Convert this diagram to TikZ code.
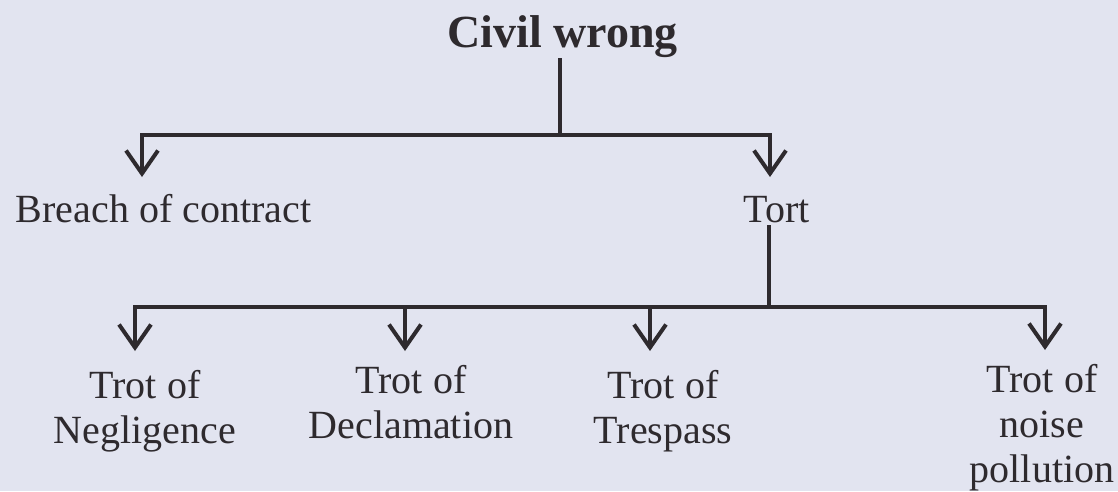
\documentclass[tikz,border=0pt]{standalone}
\usepackage{fontspec}
\setmainfont{Liberation Serif}
\usetikzlibrary{arrows.meta}
\definecolor{bg}{RGB}{226,228,240}
\definecolor{ink}{RGB}{46,42,46}
\begin{document}
\begin{tikzpicture}[x=1pt,y=-1pt,
  lbl/.style={inner sep=0pt, text=ink, font=\fontsize{40}{45}\selectfont, align=center},
  ttl/.style={inner sep=0pt, text=ink, font=\fontsize{46}{50}\selectfont\bfseries},
  conn/.style={draw=ink, line width=4pt},
  arr/.style={conn, -{Straight Barb[length=23pt,width=32pt,line join=miter]}}]
\fill[bg] (0,0) rectangle (1118,491);
\useasboundingbox (0,0) rectangle (1118,491);

% nodes
\node[ttl, anchor=base] (cw) at (562.5,47) {Civil wrong};
\node[lbl, anchor=base] (boc) at (163.5,222) {Breach of contract};
\node[lbl, anchor=base] (tort) at (777,222) {Tort};
\node[lbl, anchor=north] (neg) at (145,370) {Trot of\\Negligence};
\node[lbl, anchor=north] (dec) at (411,365) {Trot of\\Declamation};
\node[lbl, anchor=north] (tre) at (663,370) {Trot of\\Trespass};
\node[lbl, anchor=north] (noi) at (1042,364) {Trot of\\noise\\pollution};

% junctions
\coordinate (j1) at (560,135);
\coordinate (l1) at (142,135);
\coordinate (r1) at (770,135);
\coordinate (j2) at (769,307);
\coordinate (a1) at (135,307);
\coordinate (a2) at (405,307);
\coordinate (a3) at (650,307);
\coordinate (a4) at (1045,307);

% level 1
\draw[conn] ([yshift=-1pt]cw.south -| j1) -- (j1);
\draw[conn, line cap=rect] (l1) -- (r1);
\draw[arr] (l1) -- ([yshift=45pt]boc.base -| l1);
\draw[arr] (r1) -- ([yshift=45pt]tort.base -| r1);

% level 2
\draw[conn] ([yshift=-3pt]tort.base -| j2) -- (j2);
\draw[conn, line cap=rect] (a1) -- (a4);
\draw[arr] (a1) -- ([yshift=19pt]neg.north -| a1);
\draw[arr] (a2) -- ([yshift=14pt]dec.north -| a2);
\draw[arr] (a3) -- ([yshift=19pt]tre.north -| a3);
\draw[arr] (a4) -- ([yshift=14pt]noi.north -| a4);
\end{tikzpicture}
\end{document}
